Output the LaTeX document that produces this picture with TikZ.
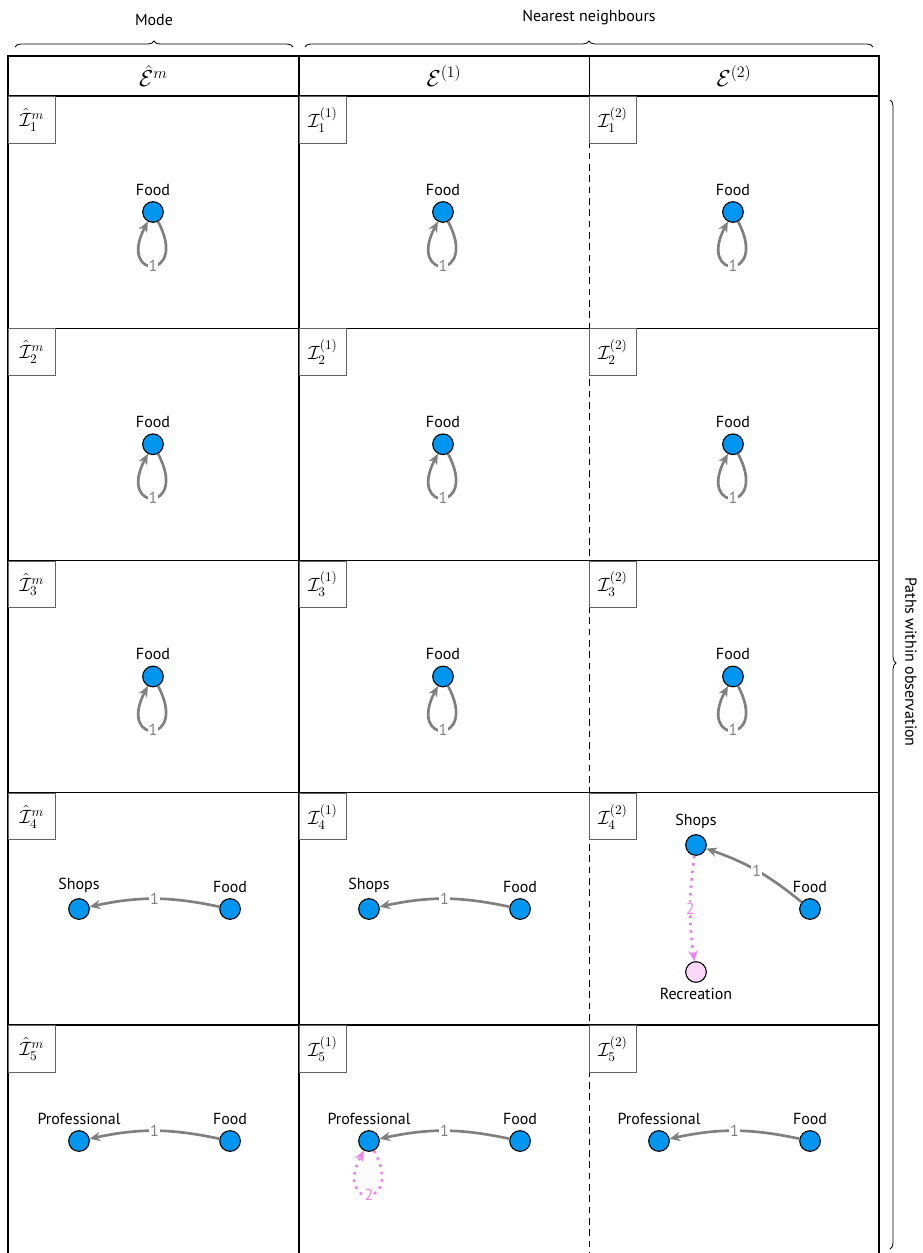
\documentclass[tikz,border=0pt,12pt]{standalone}
\usepackage{amsmath,amssymb}
\usepackage{fontspec}
\setmainfont{PT Sans}
\usepackage{tikz}
\usetikzlibrary{arrows.meta,positioning,decorations.pathreplacing}
\definecolor{nodeblue}{RGB}{0,150,240}
\definecolor{edgegray}{RGB}{128,128,128}
\definecolor{softpink}{RGB}{250,215,248}
\definecolor{hotpink}{RGB}{240,130,240}
\definecolor{tagline}{RGB}{100,100,100}

\begin{document}
\begin{tikzpicture}[
  x=0.75pt,y=0.75pt,
  node distance=97pt,
  place/.style={circle,draw=black,line width=0.8pt,fill=nodeblue,
    minimum size=15.5pt,inner sep=0pt},
  visit/.style={place,fill=softpink},
  flow/.style={-{Stealth[length=8pt,width=7pt]},line width=2pt,draw=edgegray},
  hop/.style={-{Stealth[length=8pt,width=7pt]},line width=2pt,draw=hotpink,
    dash pattern=on 2pt off 3.6pt},
  num/.style={fill=white,inner sep=0.8pt,text=edgegray},
  hopnum/.style={num,text=hotpink},
  selfloop/.style={out=-62,in=-118,distance=50pt},
  tag/.style={draw=tagline,line width=0.7pt,anchor=north west,font=\large,
    minimum width=35pt,minimum height=35pt,inner sep=0pt},
  grid/.style={line width=0.8pt,draw=black},
  brace/.style={decorate,decoration={brace,amplitude=4.5pt},line width=0.6pt}
]
\useasboundingbox (0,0) rectangle (922,-1253);

% table
\draw[grid] (8,-56) rectangle (879,-96);
\draw[grid,line width=0.6pt] (589,-56) -- (589,-96);
\draw[grid] (8,-96) -- (8,-1253);
\draw[grid,line width=1.3pt] (299,-56) -- (299,-1253);
\draw[grid,line width=0.7pt,dash pattern=on 5pt off 3.5pt] (589,-96) -- (589,-1253);
\draw[grid] (879,-96) -- (879,-1253);
\foreach \r in {2,...,5}{
  \pgfmathsetmacro{\rowtop}{-(96+232.25*(\r-1))}
  \draw[grid] (8,\rowtop) -- (879,\rowtop);
}

\node[font=\Large] (headm) at (153.5,-76) {$\hat{\mathcal{E}}^m$};
\node[font=\Large] (headone) at (444,-76) {$\mathcal{E}^{(1)}$};
\node[font=\Large] (headtwo) at (734,-76) {$\mathcal{E}^{(2)}$};

\draw[brace] (15,-47) -- (293,-47) node[midway,above=12pt] (mode) {Mode};
\draw[brace] (305,-47) -- (873,-47) node[midway,above=12pt] (nearest) {Nearest neighbours};
\draw[brace,decoration={aspect=0.49}] (890,-100) -- (890,-1249);
\node[rotate=-90] (paths) at (911,-662) {Paths within observation};

\foreach \r in {1,...,5}{
  \pgfmathsetmacro{\rowtop}{-(96+232.25*(\r-1))}
  \node[tag] (tagm\r) at (8,\rowtop) {$\hat{\mathcal{I}}^m_{\r}$};
  \node[tag] (tagone\r) at (299,\rowtop) {$\mathcal{I}^{(1)}_{\r}$};
  \node[tag] (tagtwo\r) at (589,\rowtop) {$\mathcal{I}^{(2)}_{\r}$};
}

% rows 1-3: Food only
\foreach \r in {1,2,3}{
  \foreach \c/\x in {m/153,one/443,two/733}{
    \pgfmathsetmacro{\fy}{-(212+232.25*(\r-1))}
    \node[place,label=above:Food] (food\r\c) at (\x,\fy) {};
    \draw[flow] (food\r\c) to[selfloop] node[num] {1} (food\r\c);
  }
}

% row 4
\node[place,label=above:Shops] (shops4m) at (79,-909) {};
\node[place,label=above:Food,right=of shops4m] (food4m) {};
\draw[flow] (food4m) to[bend right=12] node[num] {1} (shops4m);

\node[place,label=above:Shops] (shops4one) at (369,-909) {};
\node[place,label=above:Food,right=of shops4one] (food4one) {};
\draw[flow] (food4one) to[bend right=12] node[num] {1} (shops4one);

\node[place,label=above:Shops] (shops4two) at (696,-845) {};
\node[place,label=above:Food] (food4two) at (810,-909) {};
\node[visit,label=below:Recreation] (rec4two) at (696,-972) {};
\draw[flow] (food4two) to[bend right=10] node[num] {1} (shops4two);
\draw[hop] (shops4two) to[bend right=8] node[hopnum] {2} (rec4two);

% row 5
\node[place,label=above:Professional] (prof5m) at (79,-1141) {};
\node[place,label=above:Food,right=of prof5m] (food5m) {};
\draw[flow] (food5m) to[bend right=12] node[num] {1} (prof5m);

\node[place,label=above:Professional] (prof5one) at (369,-1141) {};
\node[place,label=above:Food,right=of prof5one] (food5one) {};
\draw[flow] (food5one) to[bend right=12] node[num] {1} (prof5one);
\draw[hop] (prof5one) to[selfloop] node[hopnum] {2} (prof5one);

\node[place,label=above:Professional] (prof5two) at (659,-1141) {};
\node[place,label=above:Food,right=of prof5two] (food5two) {};
\draw[flow] (food5two) to[bend right=12] node[num] {1} (prof5two);
\end{tikzpicture}
\end{document}
